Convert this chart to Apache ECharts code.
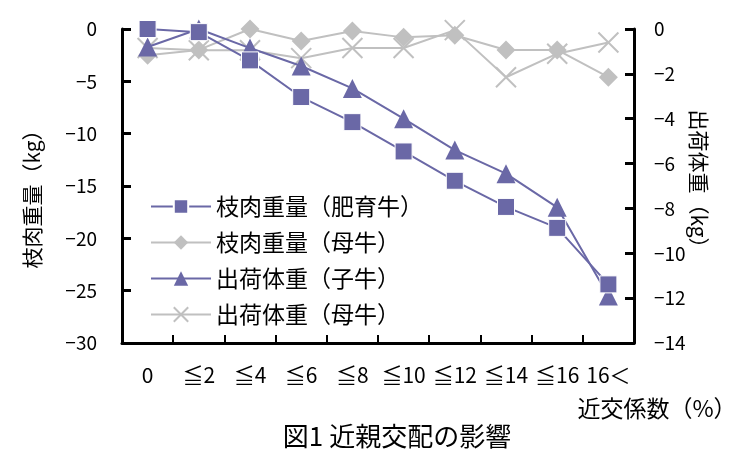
<!DOCTYPE html>
<html><head><meta charset="utf-8">
<script src="https://cdn.jsdelivr.net/npm/echarts@6/dist/echarts.min.js"></script>
<style>html,body{margin:0;padding:0;background:#fff}#c{width:750px;height:464px}</style>
</head><body><div id="c"></div>
<script>
const categories = ['0','≦2','≦4','≦6','≦8','≦10','≦12','≦14','≦16','16＜'];
const carcassFattening = [0, -0.3, -3.0, -6.5, -8.9, -11.7, -14.5, -17.0, -19.0, -24.4];
const carcassCow = [-2.5, -2.0, 0, -1.15, -0.2, -0.8, -0.6, -2.0, -2.0, -4.6];
const shipCalf = [-0.8, 0, -0.85, -1.65, -2.65, -4.0, -5.4, -6.45, -7.95, -11.9];
const shipCow = [-0.85, -0.95, -0.95, -1.3, -0.85, -0.85, -0.05, -2.15, -1.1, -0.6];
const leftTicks = {min: -30, max: 0, interval: 5};
const rightTicks = {min: -14, max: 0, interval: 2};
const seriesNames = ['枝肉重量（肥育牛）', '枝肉重量（母牛）', '出荷体重（子牛）', '出荷体重（母牛）'];

const purple = '#6a68a6';
const gray = '#c0c0c0';
const font = '"Noto Sans CJK JP", "Noto Sans", sans-serif';
const numFont = '"Liberation Sans Narrow", "Noto Sans CJK JP", sans-serif';
const minus = v => String(v).replace('-', '−');
const chart = echarts.init(document.getElementById('c'));
const axisLine = {show: true, onZero: false, lineStyle: {color: '#000', width: 3}};
chart.setOption({
  animation: false,
  textStyle: {fontFamily: font, color: '#000'},
  graphic: [
    {type: 'text', x: 397, y: 436, style: {text: '図1 近親交配の影響', x: 0, y: 0, align: 'center', verticalAlign: 'middle',
      font: '26px ' + font, fill: '#000'}},
    {type: 'text', x: 657, y: 408, style: {text: '近交係数（%）', x: 0, y: 0, align: 'center', verticalAlign: 'middle',
      font: '23px ' + font, fill: '#000'}},
    {type: 'text', x: 32, y: 194, rotation: Math.PI / 2, style: {text: '枝肉重量（kg）', x: 0, y: 0, align: 'center', verticalAlign: 'middle',
      font: '21px ' + font, fill: '#000'}},
    {type: 'text', x: 699, y: 184, rotation: -Math.PI / 2, style: {text: '出荷体重（kg）', x: 0, y: 0, align: 'center', verticalAlign: 'middle',
      font: '21px ' + font, fill: '#000'}}
  ],
  legend: {orient: 'vertical', left: 145, top: 190, itemWidth: 60, itemHeight: 18, itemGap: 13,
    textStyle: {fontFamily: font, fontSize: 23, color: '#000'},
    data: seriesNames},
  grid: {left: 122, right: 116, top: 29, bottom: 121, containLabel: false},
  xAxis: {type: 'category', data: categories, boundaryGap: true,
    axisLine: axisLine,
    axisTick: {show: true, inside: true, length: 8, lineStyle: {color: '#000', width: 2}},
    axisLabel: {fontFamily: numFont, fontSize: 21, color: '#000', margin: 22, interval: 0},
    splitLine: {show: false}},
  yAxis: [
    {type: 'value', min: leftTicks.min, max: leftTicks.max, interval: leftTicks.interval, position: 'left',
      axisLine: axisLine,
      axisTick: {show: true, inside: true, length: 9, lineStyle: {color: '#000', width: 3}},
      axisLabel: {fontFamily: numFont, fontSize: 19, color: '#000', margin: 25, formatter: minus},
      splitLine: {show: false}},
    {type: 'value', min: rightTicks.min, max: rightTicks.max, interval: rightTicks.interval, position: 'right',
      axisLine: axisLine,
      axisTick: {show: true, inside: true, length: 9, lineStyle: {color: '#000', width: 3}},
      axisLabel: {fontFamily: numFont, fontSize: 19, color: '#000', margin: 20, formatter: minus},
      splitLine: {show: false}}
  ],
  series: [
    {name: seriesNames[0], type: 'line', yAxisIndex: 0, data: carcassFattening,
      symbol: 'rect', symbolSize: 17, z: 4,
      lineStyle: {color: purple, width: 2}, itemStyle: {color: purple, borderColor: '#ffffff', borderWidth: 1}},
    {name: seriesNames[1], type: 'line', yAxisIndex: 0, data: carcassCow,
      symbol: 'diamond', symbolSize: 19, z: 2,
      lineStyle: {color: gray, width: 2}, itemStyle: {color: gray}},
    {name: seriesNames[2], type: 'line', yAxisIndex: 1, data: shipCalf,
      symbol: 'triangle', symbolSize: 19, z: 3,
      lineStyle: {color: purple, width: 2}, itemStyle: {color: purple}},
    {name: seriesNames[3], type: 'line', yAxisIndex: 1, data: shipCow,
      symbol: 'path://M0,0L10,10M10,0L0,10', symbolSize: 20, z: 1,
      lineStyle: {color: gray, width: 2}, itemStyle: {color: gray, borderColor: gray, borderWidth: 2}}
  ]
});
</script></body></html>
